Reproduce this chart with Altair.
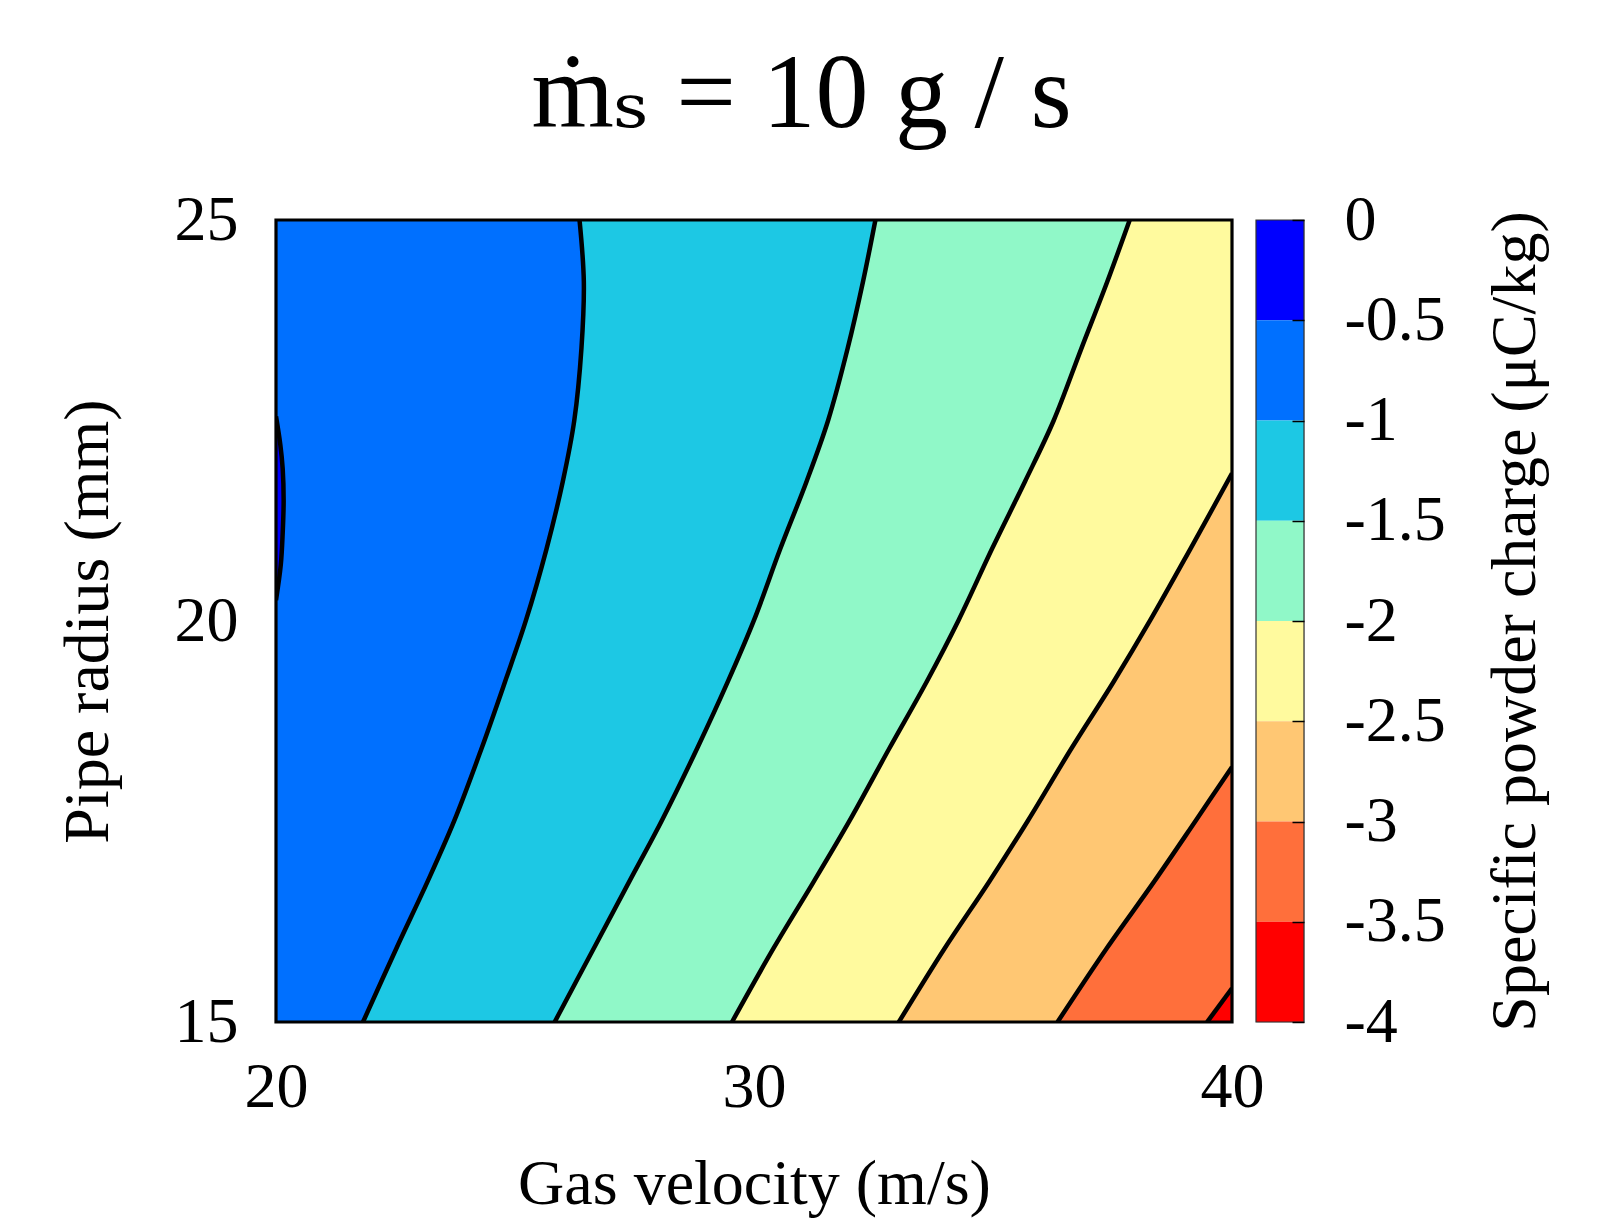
import altair as alt
import pandas as pd

# ---------------- data ----------------
X_MIN, X_MAX = 20, 40
Y_MIN, Y_MAX = 15, 25
X_TICKS = [20, 30, 40]
Y_TICKS = [15, 20, 25]
CB_MIN, CB_MAX = -4, 0
CB_TICKS = [0, -0.5, -1, -1.5, -2, -2.5, -3, -3.5, -4]

BAND_HI = [0, -0.5, -1, -1.5, -2, -2.5, -3, -3.5]
BAND_LO = [-0.5, -1, -1.5, -2, -2.5, -3, -3.5, -4]
BAND_COLORS = ["#0000FF", "#0070FF", "#1DC8E4", "#90F8C8",
               "#FFFA9E", "#FFC773", "#FF6F3B", "#FF0000"]

# contour curves (x as a function of y)
Y_ROWS = [25, 24.23, 23.4, 22.5, 21.74, 20.9, 20.01, 19.24, 18.41, 17.51, 16.75,
          15.92, 15]
C10_X = [26.35, 26.44, 26.39, 26.24, 26.0, 25.66, 25.23, 24.79, 24.3, 23.73, 23.17,
         22.52, 21.82]
C15_X = [32.54, 32.28, 31.96, 31.55, 31.10, 30.55, 30.0, 29.45, 28.81, 28.07, 27.39,
         26.65, 25.83]
C20_X = [37.86, 37.39, 36.85, 36.27, 35.67, 34.98, 34.28, 33.61, 32.83, 32.0, 31.25,
         30.41, 29.54]
C25_Y = [21.84, 20.9, 20.01, 19.24, 18.41, 17.51, 16.75, 15.92, 15]
C25_X = [40, 39.13, 38.29, 37.52, 36.64, 35.73, 34.92, 33.99, 33.03]
C30_Y = [18.18, 17.51, 16.75, 15.92, 15]
C30_X = [40, 39.24, 38.37, 37.38, 36.35]
C35_Y = [15.42, 15]
C35_X = [40, 39.48]
C05_Y = [22.55, 22.2, 21.9, 21.5, 21.1, 20.7, 20.26]
C05_X = [20, 20.09, 20.14, 20.16, 20.14, 20.1, 20]

TITLE = "ṁₛ = 10 g / s"
FONT = "Liberation Serif, DejaVu Serif"
CURVE = "catmull-rom"

BAND_NAMES = [f"{h} to {l}" for h, l in zip(BAND_HI, BAND_LO)]
color_scale = alt.Scale(domain=BAND_NAMES, range=BAND_COLORS)

# level -> (ys, xs, band index of fill, fill side)
CONTOURS = [
    (-0.5, C05_Y, C05_X, 0, "left"),
    (-1.0, Y_ROWS, C10_X, 2, "right"),
    (-1.5, Y_ROWS, C15_X, 3, "right"),
    (-2.0, Y_ROWS, C20_X, 4, "right"),
    (-2.5, C25_Y, C25_X, 5, "right"),
    (-3.0, C30_Y, C30_X, 6, "right"),
    (-3.5, C35_Y, C35_X, 7, "right"),
]

xscale = alt.Scale(domain=[X_MIN, X_MAX], nice=False, zero=False)
yscale = alt.Scale(domain=[Y_MIN, Y_MAX], nice=False, zero=False)
xaxis = alt.Axis(values=X_TICKS, title="Gas velocity (m/s)", labelPadding=33,
                 titlePadding=33, labelFlush=False)
yaxis = alt.Axis(values=Y_TICKS, title="Pipe radius (mm)", labelPadding=38,
                 titlePadding=54, labelFlush=False)


def X(field):
    return alt.X(field, type="quantitative", scale=xscale, axis=xaxis)


def Y(field):
    return alt.Y(field, type="quantitative", scale=yscale, axis=yaxis)


# base fill (band -0.5 .. -1) covering the whole domain
base_df = pd.DataFrame({"x": [X_MIN], "x2": [X_MAX], "y": [Y_MIN], "y2": [Y_MAX],
                        "band": [BAND_NAMES[1]]})
base = alt.Chart(base_df).mark_rect().encode(
    x=X("x"), x2="x2", y=Y("y"), y2="y2",
    color=alt.Color("band:N", scale=color_scale, legend=None),
)

layers = [base]
line_rows = []
for level, ys, xs, bidx, side in CONTOURS:
    edge = X_MAX if side == "right" else X_MIN
    df = pd.DataFrame({"y": ys, "x": xs, "x2": [edge] * len(xs),
                       "band": [BAND_NAMES[bidx]] * len(xs)})
    layers.append(
        alt.Chart(df).mark_area(orient="horizontal", clip=True,
                                interpolate=CURVE).encode(
            x=X("x"), x2="x2", y=Y("y"),
            color=alt.Color("band:N", scale=color_scale, legend=None),
        )
    )
    for i, (yy, xx) in enumerate(zip(ys, xs)):
        line_rows.append({"level": level, "i": i, "x": xx, "y": yy})

lines_df = pd.DataFrame(line_rows)
lines = alt.Chart(lines_df).mark_line(clip=True, interpolate=CURVE).encode(
    x=X("x"), y=Y("y"), detail="level:N", order="i:Q",
    color=alt.value("black"), strokeWidth=alt.value(4.5),
)
frame = alt.Chart(base_df).mark_rect(fillOpacity=0).encode(
    x=X("x"), x2="x2", y=Y("y"), y2="y2",
    stroke=alt.value("black"), strokeWidth=alt.value(3.2),
)
layers += [lines, frame]

main = alt.layer(*layers).properties(width=956, height=802)

# colour bar
cb_df = pd.DataFrame({"lo": BAND_LO, "hi": BAND_HI, "band": BAND_NAMES})
cb_box = pd.DataFrame({"lo": [CB_MIN], "hi": [CB_MAX]})
cb_scale = alt.Scale(domain=[CB_MIN, CB_MAX], nice=False, zero=False)
cb_axis = alt.Axis(orient="right", values=CB_TICKS, offset=-12, zindex=2,
                   ticks=True, tickSize=12, tickColor="black", tickWidth=1.5,
                   labelExpr="toString(datum.value)",
                   title="Specific powder charge (μC/kg)",
                   titleAngle=270, titleBaseline="top",
                   labelPadding=40, titlePadding=38)
cb_rects = alt.Chart(cb_df).mark_rect().encode(
    y=alt.Y("lo:Q", scale=cb_scale, axis=cb_axis),
    y2="hi",
    color=alt.Color("band:N", scale=color_scale, legend=None),
)
cb_outline = alt.Chart(cb_box).mark_rect(fillOpacity=0).encode(
    y=alt.Y("lo:Q", scale=cb_scale, axis=cb_axis),
    y2="hi",
    stroke=alt.value("#333333"), strokeWidth=alt.value(1.2),
)
cbar = alt.layer(cb_rects, cb_outline).properties(width=48, height=802)

chart = alt.hconcat(main, cbar, spacing=24, bounds="flush").properties(
    title=alt.TitleParams(TITLE, fontSize=106, font=FONT,
                          fontWeight="normal", anchor="middle", color="black",
                          offset=39),
    padding={"left": 47, "top": 33, "right": 10, "bottom": 5},
).configure(font=FONT).configure_axis(
    labelFont=FONT, titleFont=FONT, labelFontSize=64, titleFontSize=64,
    titleFontWeight="normal", labelColor="black", titleColor="black",
    grid=False, ticks=False, domain=False,
)

chart.save("out.html", embed_options={"renderer": "svg", "actions": False})
